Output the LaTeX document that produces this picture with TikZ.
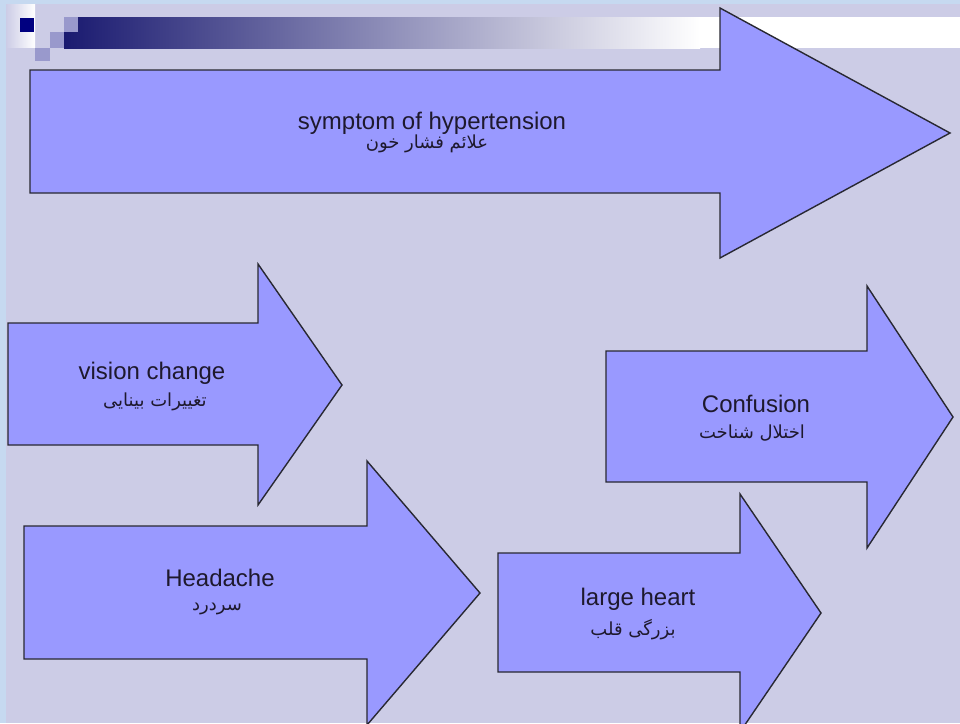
\documentclass[tikz,border=0pt]{standalone}
\usepackage{fontspec}
\setmainfont{Liberation Sans}
\newfontfamily\arabicfont[Script=Arabic]{DejaVu Sans}
\TeXXeTstate=1
\definecolor{framecol}{RGB}{198,217,240}
\definecolor{slidecol}{RGB}{204,204,230}
\definecolor{navycol}{RGB}{0,0,128}
\definecolor{barcol}{RGB}{26,26,112}
\definecolor{lilac}{RGB}{153,153,204}
\definecolor{arrowfill}{RGB}{153,153,255}
\definecolor{arrowline}{RGB}{40,40,50}
\definecolor{textcol}{RGB}{30,25,45}
\begin{document}
\begin{tikzpicture}[x=1pt,y=-1pt,
  symarrow/.style={fill=arrowfill, draw=arrowline, line width=1.4pt, line join=miter},
  entext/.style={font=\fontsize{24}{28}\selectfont, text=textcol, inner sep=0pt, anchor=base},
  artext/.style={font=\arabicfont\fontsize{18}{22}\selectfont, text=textcol, inner sep=0pt},
]
% page frame and slide area
\useasboundingbox (0,0) rectangle (960,723);
\clip (0,0) rectangle (960,723);
\fill[framecol] (0,0) rectangle (960,723);
\fill[slidecol] (6,4) rectangle (960,723);

% title-bar ornament
\shade[left color=slidecol, right color=white] (6,4) rectangle (35,47);
\fill[navycol] (20,18) rectangle (34,32);
\shade[left color=barcol, right color=white] (64,17) rectangle (700,48);
\fill[white] (700,17) rectangle (960,48);
\fill[lilac] (64,17) rectangle (78,32);
\fill[lilac] (50,32) rectangle (64,48);
\fill[lilac] (35,48) rectangle (50,61);

% block arrows: body left, body top, body bottom, head x, head top, head bottom, tip
\newcommand\blockarrow[9]{%
  \draw[symarrow] (#1,#2) -- (#4,#2) -- (#4,#5) -- (#7,#8) -- (#4,#6) -- (#4,#3) -- (#1,#3) -- cycle;}
\blockarrow{30}{70}{193}{720}{8}{258}{950}{133}{}
\blockarrow{8}{323}{445}{258}{264}{505}{342}{385}{}
\blockarrow{606}{351}{482}{867}{286}{548}{953}{417}{}
\blockarrow{24}{526}{659}{367}{461}{725}{480}{593}{}
\blockarrow{498}{553}{672}{740}{494}{732}{821}{613}{}

% labels
\node[entext] (t1) at (432,129) {symptom of hypertension};
\node[artext] (a1) at (427,144) {\beginR علائم فشار خون\endR};
\node[entext] (t2) at (152,379) {vision change};
\node[artext] (a2) at (155,402) {\beginR تغییرات بینایی\endR};
\node[entext] (t3) at (756,412) {Confusion};
\node[artext] (a3) at (752,433) {\beginR اختلال شناخت\endR};
\node[entext] (t4) at (220,586) {Headache};
\node[artext] (a4) at (217,609) {\beginR سردرد\endR};
\node[entext] (t5) at (638,605) {large heart};
\node[artext] (a5) at (633,630) {\beginR بزرگی قلب\endR};
\end{tikzpicture}
\end{document}
